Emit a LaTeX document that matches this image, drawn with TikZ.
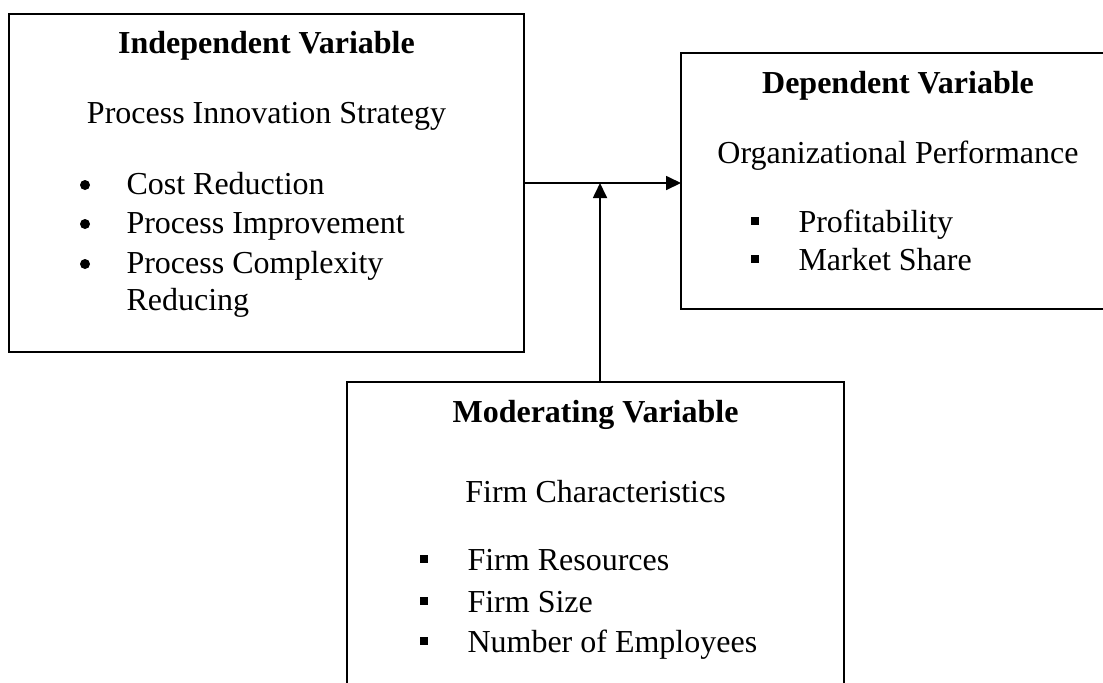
\documentclass[tikz,border=0pt]{standalone}
\usepackage{fontspec}
\setmainfont{Liberation Serif}
\usetikzlibrary{arrows.meta}
\newlength\px
\setlength\px{0.4pt}

\begin{document}
\begin{tikzpicture}[
    x=\px, y=-\px,
    font=\fontsize{12.8pt}{15pt}\selectfont,
    varbox/.style = {
        draw=black,
        line width=0.7pt,
        inner sep=0pt,
        outer sep=0pt,
    },
    title/.style = {anchor=base, inner sep=0pt, font=\fontsize{12.8pt}{15pt}\selectfont\bfseries},
    line/.style = {anchor=base, inner sep=0pt},
    dotbul/.style = {circle, fill=black, inner sep=0pt, minimum size=10\px},
    sqbul/.style = {rectangle, fill=black, inner sep=0pt, minimum size=7.5\px},
    item/.style = {anchor=base west, inner sep=0pt},
    link/.style = {
        draw=black,
        line width=0.7pt,
        -{Triangle[length=6pt, width=5.6pt]},
    },
]
\useasboundingbox (0,0) rectangle (1103,682);
\clip (0,0) rectangle (1103,682);

% the three variable boxes
\node [varbox, minimum width=515\px, minimum height=338\px] (ind) at (266.5,183) {};
\node [varbox, minimum width=434\px, minimum height=256\px] (dep) at (898,181) {};
\node [varbox, minimum width=497\px, minimum height=360\px] (mod) at (595.5,562) {};

% independent variable
\node [title] (ind-title) at (266.5,53) {Independent Variable};
\node [line] (ind-name) at (266.5,123) {Process Innovation Strategy};
\foreach \i/\y/\t in {1/194/Cost Reduction, 2/233/Process Improvement, 3/273/Process Complexity} {
    \node [dotbul] (ind-b\i) at (85,\y-9) {};
    \node [item] (ind-\i) at (126,\y) {\t};
}
\node [item] (ind-3b) at (126,310) {Reducing};

% dependent variable
\node [title] (dep-title) at (898,93) {Dependent Variable};
\node [line] (dep-name) at (898,163) {Organizational Performance};
\foreach \i/\y/\t in {1/232/Profitability, 2/270/Market Share} {
    \node [sqbul] (dep-b\i) at (755,\y-11) {};
    \node [item] (dep-\i) at (798,\y) {\t};
}

% moderating variable
\node [title] (mod-title) at (595.5,422) {Moderating Variable};
\node [line] (mod-name) at (595.5,502) {Firm Characteristics};
\foreach \i/\y/\t in {1/570/Firm Resources, 2/612/Firm Size, 3/652/Number of Employees} {
    \node [sqbul] (mod-b\i) at (424,\y-11) {};
    \node [item] (mod-\i) at (467,\y) {\t};
}

% links
\draw [link] (ind.east) -- (ind.east -| dep.west);
\coordinate (join) at (600,183);
\draw [link] (join |- mod.north) -- (join);
\end{tikzpicture}
\end{document}
